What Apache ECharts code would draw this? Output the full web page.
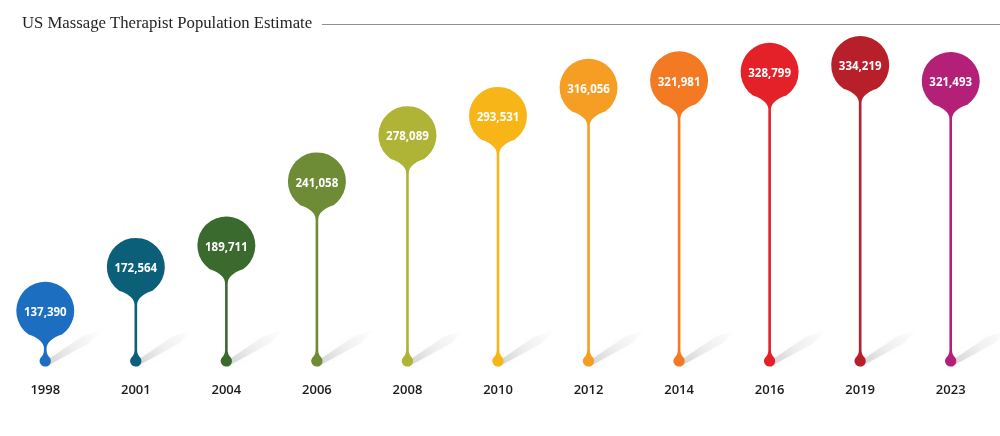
<!DOCTYPE html>
<html><head><meta charset="utf-8">
<script src="https://cdn.jsdelivr.net/npm/echarts@6/dist/echarts.min.js"></script>
<style>html,body{margin:0;padding:0;background:#fff}#c{width:1000px;height:436px}</style>
</head><body><div id="c"></div>
<script>
const chartTitle = 'US Massage Therapist Population Estimate';
const years = ['1998','2001','2004','2006','2008','2010','2012','2014','2016','2019','2023'];
const therapists = [137390,172564,189711,241058,278089,293531,316056,321981,328799,334219,321493];
const pinColors = ['#1C6EC1','#0B5F78','#3B6A2F','#6E8B36','#AFB336','#F7B518','#F59E23','#F37A22','#E42128','#B71F2A','#B41F77'];

const chart = echarts.init(document.getElementById('c'));

function renderItem(params, api) {
  const i = api.value(0);
  const v = api.value(1);
  const p = api.coord([i, v]);
  const x = p[0], yc = p[1];
  const cs = params.coordSys;
  const yd = cs.y + cs.height + 3.5;
  const r = 29, sw = 1.3, dr = 5.6;
  const color = pinColors[params.dataIndex % pinColors.length];
  const a = 35 * Math.PI / 180;
  const px = r * Math.sin(a), py = r * Math.cos(a);
  const neckEnd = yc + 38;
  const dropTop = yd - 11;
  const b = 52 * Math.PI / 180;
  const qx = dr * Math.sin(b), qy = dr * Math.cos(b);
  const d = [
    'M', x - sw, neckEnd,
    'Q', x - sw, yc + 29, x - px, yc + py,
    'A', r, r, 0, 1, 1, x + px, yc + py,
    'Q', x + sw, yc + 29, x + sw, neckEnd,
    'L', x + sw, dropTop,
    'Q', x + sw, yd - 6, x + qx, yd - qy,
    'A', dr, dr, 0, 1, 1, x - qx, yd - qy,
    'Q', x - sw, yd - 6, x - sw, dropTop,
    'Z'
  ].join(' ');
  return {
    type: 'group',
    children: [
      {
        type: 'polygon',
        z2: 1,
        shape: { points: [[x + 2, yd + 5], [x + 2, yd - 1], [x + 36, yd - 24], [x + 58, yd - 32], [x + 44, yd - 18]] },
        style: {
          fill: new echarts.graphic.LinearGradient(0, 1, 1, 0, [
            { offset: 0, color: 'rgba(0,0,0,0.16)' },
            { offset: 0.45, color: 'rgba(0,0,0,0.06)' },
            { offset: 1, color: 'rgba(0,0,0,0)' }
          ]),
          shadowBlur: 10,
          shadowColor: 'rgba(0,0,0,0.2)'
        }
      },
      {
        type: 'path',
        z2: 2,
        shape: { pathData: d },
        style: { fill: color }
      },
      {
        type: 'text',
        z2: 3,
        x: x,
        y: yc + 2,
        style: {
          text: v.toLocaleString('en-US'),
          fill: '#ffffff',
          font: '700 11.5px "Open Sans", sans-serif',
          align: 'center',
          verticalAlign: 'middle'
        }
      }
    ]
  };
}

chart.setOption({
  animation: false,
  backgroundColor: '#ffffff',
  title: {
    text: chartTitle,
    left: 22,
    top: 15,
    padding: 0,
    textStyle: { fontFamily: '"Liberation Serif", serif', fontSize: 16.7, fontWeight: 'normal', color: '#1f1f1f' }
  },
  graphic: [{
    type: 'line',
    shape: { x1: 322, y1: 24.5, x2: 1000, y2: 24.5 },
    style: { stroke: '#8f8f8f', lineWidth: 1.2 }
  }],
  grid: { left: -2, right: 4, top: 45.4, bottom: 78.5 },
  xAxis: {
    type: 'category',
    data: years,
    boundaryGap: true,
    axisLine: { show: false },
    axisTick: { show: false },
    axisLabel: { margin: 26, color: '#1a1a1a', fontFamily: '"Open Sans", sans-serif', fontWeight: 600, fontSize: 13 }
  },
  yAxis: { type: 'value', min: 100000, max: 350000, show: false, splitLine: { show: false } },
  series: [{
    type: 'custom',
    renderItem: renderItem,
    clip: false,
    data: therapists.map((v, i) => [i, v])
  }]
});
</script>
</body></html>
